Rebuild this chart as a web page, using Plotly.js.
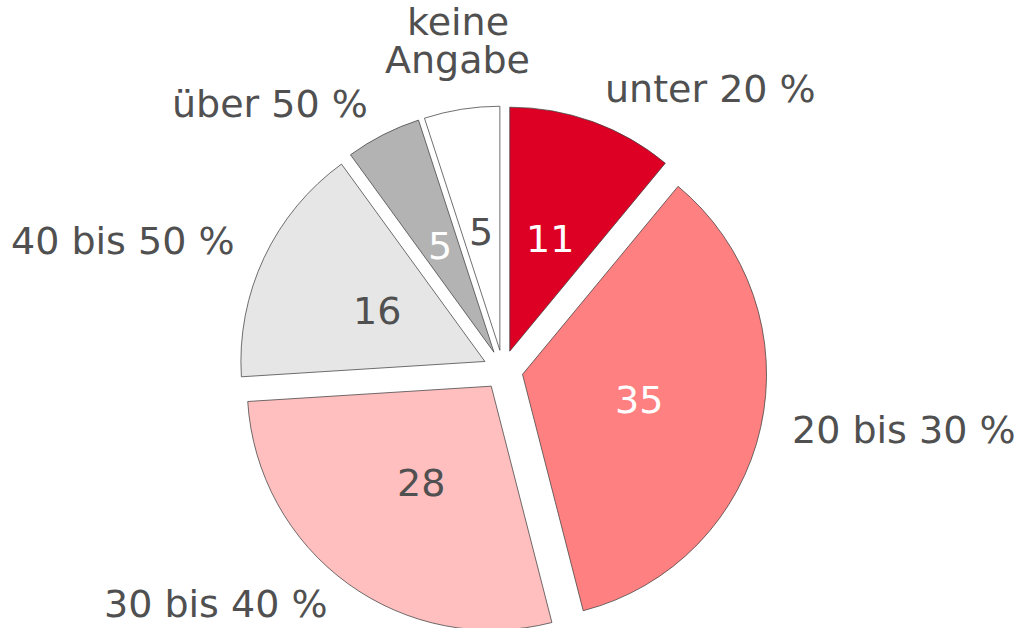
<!DOCTYPE html>
<html>
<head>
<meta charset="utf-8">
<script src="https://cdn.plot.ly/plotly-3.0.1.min.js"></script>
<style>
html, body { margin: 0; padding: 0; overflow: hidden; background: #ffffff; }
#chart { width: 1017px; height: 634px; }
</style>
</head>
<body>
<div id="chart"></div>
<script>
// ---- data ----
const categories = ["unter 20 %", "20 bis 30 %", "30 bis 40 %", "40 bis 50 %", "über 50 %", "keine\nAngabe"];
const values = [11, 35, 28, 16, 5, 5];

// ---- styles ----
const sliceColors = ["#DE0024", "#FF8080", "#FFBFBF", "#E6E6E6", "#B3B3B3", "#FFFFFF"];
const valueTextColors = ["#FFFFFF", "#FFFFFF", "#505050", "#505050", "#FFFFFF", "#505050"];
const textGray = "#505050";
const FONT = 'Verdana, "DejaVu Sans", sans-serif';
const FONT_SIZE = 38;

// ---- geometry (layout) ----
const W = 1017, H = 634;
const CX = 503, CY = 370;      // pie centre in px
const R = 244;                 // pie radius in px
const PULL = 0.082;            // pull fraction of radius
const D = 2 * R * (1 + PULL);  // plotly pie box size
const LABEL_R_SIDE = 294;      // radius for side labels
const LABEL_R_TOP = 290;       // radius for labels near 12/6 o'clock
const LABEL_CY = CY - 4;       // label ring centre
const VALUE_R = R * PULL + 0.49 * R; // radius for value labels
const LINE_GAP = 38;

const domainX = [(CX - D / 2) / W, (CX + D / 2) / W];
const domainY = [Math.max(0, 1 - (CY + D / 2) / H), Math.min(1, 1 - (CY - D / 2) / H)];

const trace = {
  type: "pie",
  labels: categories.map(c => c.replace("\n", " ")),
  values: values,
  sort: false,
  direction: "clockwise",
  rotation: 0,
  pull: values.map(() => PULL),
  marker: { colors: sliceColors, line: { color: "#404040", width: 0.75 } },
  textinfo: "none",
  hoverinfo: "label+value",
  showlegend: false,
  domain: { x: domainX, y: domainY }
};

// compute label/value positions from the data (clockwise from 12 o'clock)
const total = values.reduce((a, b) => a + b, 0);
const annotations = [];
let cum = 0;
values.forEach((v, i) => {
  const mid = (cum + v / 2) / total * 2 * Math.PI;
  cum += v;
  const dx = Math.sin(mid), dy = -Math.cos(mid);

  // value label inside slice
  const vx = CX + VALUE_R * dx, vy = CY + VALUE_R * dy;
  annotations.push({
    x: vx / W, y: 1 - vy / H, xref: "paper", yref: "paper",
    text: String(v), showarrow: false, xanchor: "center", yanchor: "middle",
    font: { family: FONT, size: FONT_SIZE, color: valueTextColors[i] }
  });

  // category label outside slice
  let xanchor = "center", yanchor = "middle";
  if (dx > 0.25) xanchor = "left"; else if (dx < -0.25) xanchor = "right";
  const nearVertical = Math.abs(dx) <= 0.25;
  if (nearVertical) yanchor = dy < 0 ? "bottom" : "top";
  const rl = nearVertical ? LABEL_R_TOP : LABEL_R_SIDE;
  const lx = CX + rl * dx, ly = (nearVertical ? CY : LABEL_CY) + rl * dy;
  const lines = categories[i].split("\n");
  lines.forEach((line, j) => {
    let yshift = 0;
    if (yanchor === "bottom") yshift = (lines.length - 1 - j) * LINE_GAP;
    else if (yanchor === "top") yshift = -j * LINE_GAP;
    else yshift = ((lines.length - 1) / 2 - j) * LINE_GAP;
    annotations.push({
      x: lx / W, y: 1 - ly / H, xref: "paper", yref: "paper",
      text: line, showarrow: false, xanchor: xanchor, yanchor: yanchor, yshift: yshift,
      font: { family: FONT, size: FONT_SIZE, color: textGray }
    });
  });
});

const layout = {
  width: W, height: H,
  margin: { l: 0, r: 0, t: 0, b: 0, pad: 0 },
  paper_bgcolor: "#ffffff",
  plot_bgcolor: "#ffffff",
  showlegend: false,
  font: { family: FONT, size: FONT_SIZE, color: textGray },
  annotations: annotations
};

Plotly.newPlot("chart", [trace], layout, { displayModeBar: false, staticPlot: true });
</script>
</body>
</html>
